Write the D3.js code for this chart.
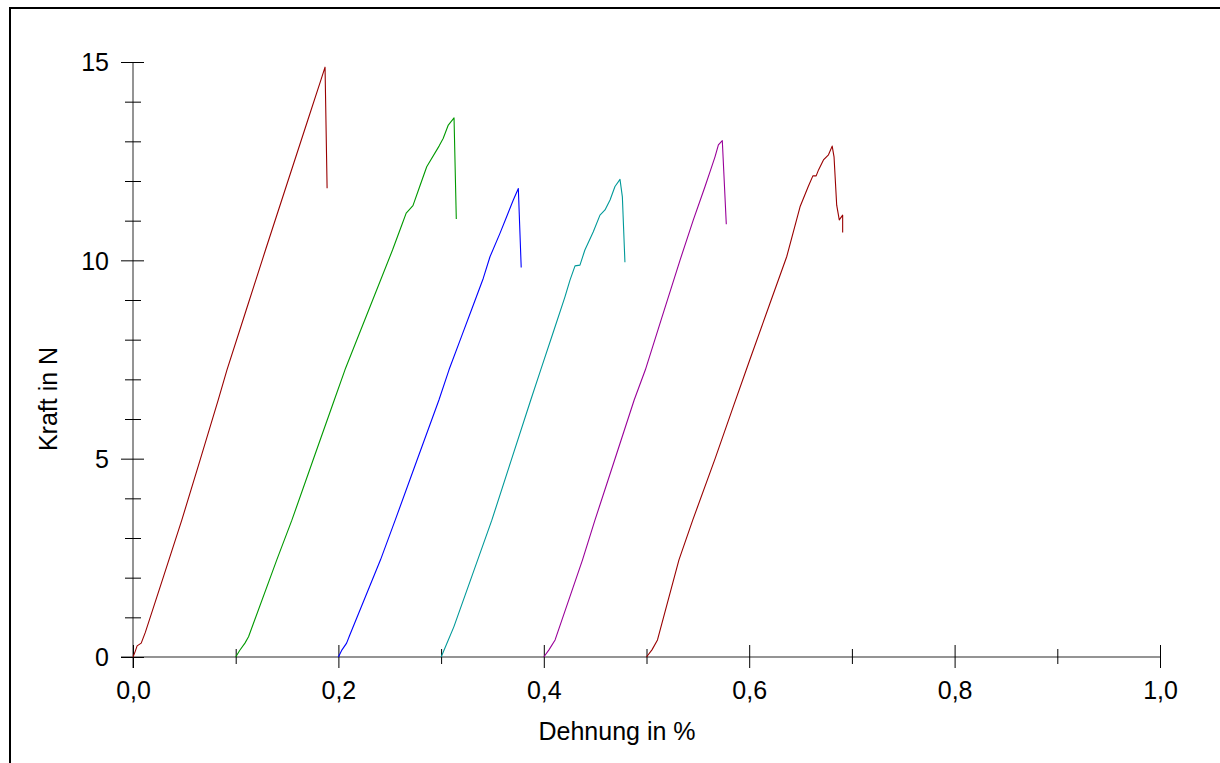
<!DOCTYPE html>
<html>
<head>
<meta charset="utf-8">
<script src="https://cdn.jsdelivr.net/npm/d3@7"></script>
<style>
  body { margin: 0; background: #fff; }
  text { font-family: Arial, "Liberation Sans", sans-serif; fill: #000; }
</style>
</head>
<body>
<svg id="chart" width="1220" height="763"></svg>
<script>
// tick values
const xMajor = [0, 0.2, 0.4, 0.6, 0.8, 1.0];
const xMinor = [0.1, 0.3, 0.5, 0.7, 0.9];
const yMajor = [0, 5, 10, 15];
const yMinor = [1, 2, 3, 4, 6, 7, 8, 9, 11, 12, 13, 14];

// Dehnung (%) / Kraft (N)
const probe1X = [0, 0.002, 0.004, 0.008, 0.012, 0.03, 0.0475, 0.065, 0.083, 0.0915, 0.11, 0.129, 0.15, 0.17, 0.183, 0.187, 0.189];
const probe1Y = [0, 0.13, 0.28, 0.35, 0.62, 2.05, 3.45, 4.94, 6.48, 7.24, 8.73, 10.26, 11.93, 13.52, 14.55, 14.87, 11.82];

const probe2X = [0.1, 0.104, 0.109, 0.1125, 0.14, 0.1547, 0.175, 0.196, 0.2064, 0.23, 0.2527, 0.262, 0.266, 0.2726, 0.279, 0.286, 0.298, 0.302, 0.307, 0.3126, 0.3148];
const probe2Y = [0, 0.17, 0.35, 0.51, 2.45, 3.45, 4.94, 6.48, 7.24, 8.78, 10.26, 10.91, 11.19, 11.38, 11.85, 12.36, 12.88, 13.07, 13.41, 13.59, 11.04];

const probe3X = [0.2, 0.2035, 0.208, 0.211, 0.241, 0.2553, 0.2765, 0.2979, 0.3077, 0.32, 0.33, 0.3411, 0.3476, 0.3573, 0.3638, 0.3703, 0.3752, 0.378];
const probe3Y = [0, 0.18, 0.35, 0.55, 2.45, 3.45, 4.96, 6.48, 7.24, 8.09, 8.78, 9.55, 10.09, 10.68, 11.1, 11.52, 11.81, 9.82];

const probe4X = [0.3, 0.302, 0.3124, 0.33, 0.3494, 0.368, 0.3873, 0.397, 0.41, 0.4206, 0.4255, 0.4304, 0.4352, 0.44, 0.4482, 0.4547, 0.4596, 0.4645, 0.4693, 0.4742, 0.4765, 0.479];
const probe4Y = [0, 0.12, 0.76, 2.04, 3.45, 4.94, 6.48, 7.24, 8.25, 9.08, 9.5, 9.86, 9.88, 10.26, 10.72, 11.14, 11.27, 11.52, 11.86, 12.04, 11.6, 9.95];

const probe5X = [0.4, 0.405, 0.411, 0.4377, 0.4498, 0.468, 0.488, 0.4989, 0.515, 0.5326, 0.5456, 0.557, 0.5618, 0.5667, 0.57, 0.5738, 0.5777];
const probe5Y = [0, 0.18, 0.43, 2.45, 3.45, 4.89, 6.48, 7.24, 8.56, 10.0, 11.02, 11.86, 12.23, 12.61, 12.91, 13.02, 10.91];

const probe6X = [0.5, 0.5053, 0.5107, 0.5316, 0.545, 0.5668, 0.585, 0.6, 0.62, 0.6365, 0.6495, 0.6575, 0.662, 0.6652, 0.6675, 0.6723, 0.6772, 0.6808, 0.6826, 0.6852, 0.6877, 0.691, 0.691];
const probe6Y = [0, 0.18, 0.43, 2.45, 3.45, 5.0, 6.35, 7.45, 8.9, 10.09, 11.35, 11.86, 12.13, 12.13, 12.28, 12.53, 12.66, 12.88, 12.61, 11.39, 11.02, 11.14, 10.7];

const seriesColors = ["#990000", "#009900", "#0000ff", "#009999", "#990099", "#990000"];

const series = [
  [probe1X, probe1Y], [probe2X, probe2Y], [probe3X, probe3Y],
  [probe4X, probe4Y], [probe5X, probe5Y], [probe6X, probe6Y]
].map((s, i) => ({ color: seriesColors[i], pts: s[0].map((v, j) => [v, s[1][j]]) }));

const svg = d3.select("#chart");

// outer frame (right/bottom sides fall outside the window)
svg.append("rect")
  .attr("x", 10).attr("y", 8)
  .attr("width", 1240).attr("height", 800)
  .attr("fill", "none").attr("stroke", "#000").attr("stroke-width", 2);

const x = d3.scaleLinear().domain([0, 1]).range([133, 1160]);
const y = d3.scaleLinear().domain([0, 15]).range([657, 62]);

// axis lines
svg.append("line")
  .attr("x1", 121).attr("x2", x(1))
  .attr("y1", y(0)).attr("y2", y(0))
  .attr("stroke", "#707070").attr("stroke-width", 1.5);
svg.append("line")
  .attr("x1", x(0)).attr("x2", x(0))
  .attr("y1", y(15)).attr("y2", y(0) + 11)
  .attr("stroke", "#707070").attr("stroke-width", 1.5);

// x axis
const gx = svg.append("g").attr("transform", `translate(0,${y(0)})`)
  .call(d3.axisBottom(x).tickValues(xMajor).tickSize(0)
    .tickFormat(d => d3.format(".1f")(d).replace(".", ",")));
gx.select(".domain").remove();
gx.selectAll(".tick line").attr("y1", -12).attr("y2", 11).attr("stroke", "#000");
gx.selectAll(".tick text").attr("font-size", 25).attr("y", 42).attr("dy", 0);

const gxm = svg.append("g").attr("transform", `translate(0,${y(0)})`)
  .call(d3.axisBottom(x).tickValues(xMinor).tickSize(0).tickFormat(""));
gxm.select(".domain").remove();
gxm.selectAll(".tick line").attr("y1", -8).attr("y2", 7).attr("stroke", "#000");

// y axis
const gy = svg.append("g").attr("transform", `translate(${x(0)},0)`)
  .call(d3.axisLeft(y).tickValues(yMajor).tickSize(0).tickPadding(24));
gy.select(".domain").remove();
gy.selectAll(".tick line").attr("x1", -12).attr("x2", 11).attr("stroke", "#000");
gy.selectAll(".tick text").attr("font-size", 25).attr("dy", "0.35em");

const gym = svg.append("g").attr("transform", `translate(${x(0)},0)`)
  .call(d3.axisLeft(y).tickValues(yMinor).tickSize(0).tickFormat(""));
gym.select(".domain").remove();
gym.selectAll(".tick line").attr("x1", -8).attr("x2", 8).attr("stroke", "#000");

// curves
const line = d3.line().x(d => x(d[0])).y(d => y(d[1]));
svg.append("g").selectAll("path")
  .data(series)
  .enter()
  .append("path")
  .attr("d", d => line(d.pts))
  .attr("fill", "none")
  .attr("stroke", d => d.color)
  .attr("stroke-width", 1.1)
  .attr("stroke-linejoin", "round");

// axis titles
svg.append("text")
  .attr("x", 617).attr("y", 740)
  .attr("text-anchor", "middle")
  .attr("font-size", 25)
  .text("Dehnung in %");

svg.append("text")
  .attr("transform", "translate(57,399) rotate(-90)")
  .attr("text-anchor", "middle")
  .attr("font-size", 25)
  .text("Kraft in N");
</script>
</body>
</html>
